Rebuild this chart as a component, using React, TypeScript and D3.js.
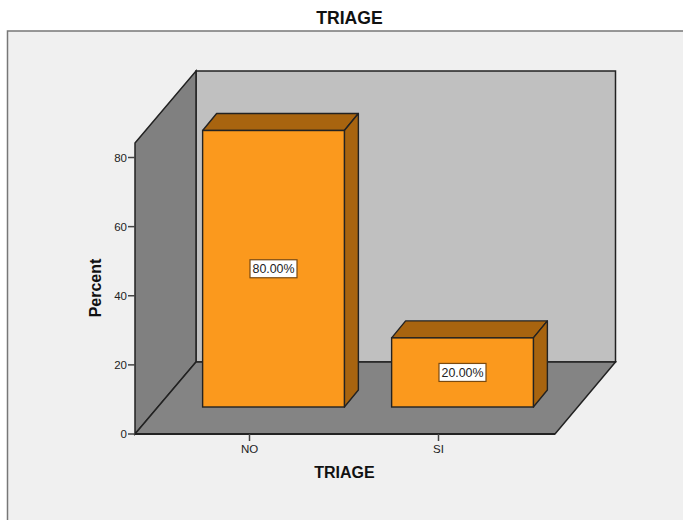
import React from "react";
import * as d3 from "d3";

const categories = ["NO", "SI"];
const percents = [80, 20];
const labels = ["80.00%", "20.00%"];
const yTicks = [0, 20, 40, 60, 80];
const axisMax = 84.2;

const W = 683, H = 520;
const font = "'Liberation Sans', Arial, sans-serif";
const orange = "#fb991d", orangeDark = "#a8640f", stroke = "#222";
const floorY = 434, wallTop = 143, floorL = 135, floorR = 555;
const depth = { x: 61, y: -72 };
const barDepth = { x: 14, y: -17 };
const barLift = { x: 0, y: -27 };

const y = d3.scaleLinear().domain([0, axisMax]).range([floorY, wallTop]);
const x = d3.scaleBand<string>().domain(categories).range([155, 533]).paddingInner(0.25).paddingOuter(0.125);
const barOffset = 24;
const pts = (p: number[][]) => p.map((a) => a.join(",")).join(" ");

export default function App() {
  const bl = floorL + depth.x, br = floorR + depth.x - 0.5;
  const by = floorY + depth.y, ty = wallTop + depth.y;
  return (
    <svg width={W} height={H} style={{ position: "absolute", left: 0, top: 0, background: "#fff" }} fontFamily={font}>
      <rect x={7.5} y={31} width={W + 10} height={H} fill="#f0f0f0" stroke="#777" strokeWidth={1.5} />
      <text x={349.5} y={23.5} textAnchor="middle" fontSize={17.6} fontWeight="bold" fill="#111">TRIAGE</text>

      <polygon points={pts([[bl, ty], [br, ty], [br, by], [bl, by]])} fill="#c0c0c0" stroke={stroke} strokeWidth={1.5} />
      <polygon points={pts([[floorL, wallTop], [bl, ty], [bl, by], [floorL, floorY]])} fill="#808080" stroke={stroke} strokeWidth={1.5} />
      <polygon points={pts([[floorL, floorY], [bl, by], [br, by], [floorR, floorY]])} fill="#848484" stroke={stroke} strokeWidth={1.5} />
      <line x1={floorL} x2={floorR} y1={floorY} y2={floorY} stroke={stroke} strokeWidth={2} />

      {yTicks.map((t) => (
        <g key={t}>
          <line x1={floorL - 7} x2={floorL} y1={y(t)} y2={y(t)} stroke="#444" strokeWidth={1.5} />
          <text x={floorL - 8} y={y(t) + 4} textAnchor="end" fontSize={11.5} fill="#222">{t}</text>
        </g>
      ))}
      <text transform={`translate(100.5,288) rotate(-90)`} textAnchor="middle" fontSize={16} fontWeight="bold" fill="#111">Percent</text>

      {categories.map((c, i) => {
        const x0 = x(c)! + barOffset, x1 = x0 + x.bandwidth();
        const y0 = y(0) + barLift.y, y1 = y(percents[i]) + barLift.y;
        const cx = (x0 + x1) / 2, cy = (y0 + y1) / 2;
        const tick = x(c)! + x.bandwidth() / 2;
        return (
          <g key={c}>
            <line x1={tick} x2={tick} y1={floorY} y2={floorY + 7} stroke="#444" strokeWidth={1.5} />
            <text x={tick} y={floorY + 19} textAnchor="middle" fontSize={11.5} fill="#222">{c}</text>
            <polygon points={pts([[x0, y1], [x0 + barDepth.x, y1 + barDepth.y], [x1 + barDepth.x, y1 + barDepth.y], [x1, y1]])} fill={orangeDark} stroke={stroke} strokeWidth={1.4} strokeLinejoin="round" />
            <polygon points={pts([[x1, y1], [x1 + barDepth.x, y1 + barDepth.y], [x1 + barDepth.x, y0 + barDepth.y], [x1, y0]])} fill={orangeDark} stroke={stroke} strokeWidth={1.4} strokeLinejoin="round" />
            <rect x={x0} y={y1} width={x.bandwidth()} height={y0 - y1} fill={orange} stroke={stroke} strokeWidth={1.4} />
            <rect x={cx - 23.5} y={cy - 9} width={47} height={18} fill="#fff" stroke="#7a4a10" strokeWidth={1.2} />
            <text x={cx} y={cy + 4.5} textAnchor="middle" fontSize={12.4} fill="#222">{labels[i]}</text>
          </g>
        );
      })}
      <text x={344.5} y={478} textAnchor="middle" fontSize={16} fontWeight="bold" fill="#111">TRIAGE</text>
    </svg>
  );
}
